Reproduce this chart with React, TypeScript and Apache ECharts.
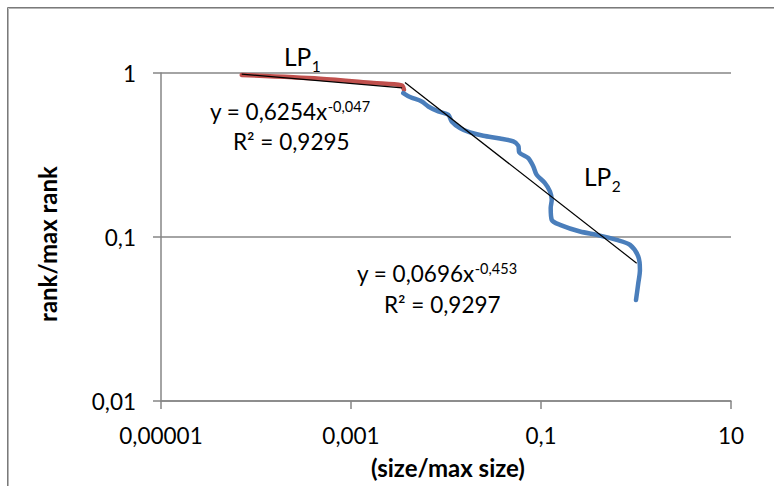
import React, { useEffect, useRef } from "react";
import * as echarts from "echarts";

// ---- data ----
const xTickValues = [0.00001, 0.001, 0.1, 10];
const xTickLabels = ["0,00001", "0,001", "0,1", "10"];
const yTickValues = [0.01, 0.1, 1];
const yTickLabels = ["0,01", "0,1", "1"];

// LP1 segment (red)
const redX = [7.07e-5, 4.72e-4, 1.717e-3, 3.42e-3, 3.61e-3];
const redY = [0.972, 0.923, 0.869, 0.84, 0.791];

// LP2 segment (blue)
const blueX = [
  3.55e-3, 4.18e-3, 5.55e-3, 6.51e-3, 8.3e-3, 0.01057, 0.01148, 0.01403, 0.0179,
  0.0247, 0.037, 0.0511, 0.0577, 0.0591, 0.0735, 0.083, 0.09, 0.11, 0.1244,
  0.1297, 0.1265, 0.1297, 0.1585, 0.2574, 0.386, 0.626, 0.865, 1.057, 1.1,
  1.057, 1.0,
];
const blueY = [
  0.755, 0.714, 0.671, 0.625, 0.583, 0.557, 0.5066, 0.4616, 0.434, 0.4143,
  0.399, 0.3825, 0.36, 0.3276, 0.3029, 0.269, 0.2394, 0.2132, 0.1894, 0.1685,
  0.15, 0.1272, 0.1186, 0.108, 0.1031, 0.0961, 0.0895, 0.076, 0.063, 0.0523,
  0.0413,
];

// power-law trend lines (endpoints)
const trend1X = [7.07e-5, 3.45e-3];
const trend1Y = [0.985, 0.812];
const trend2X = [3.7e-3, 1.017];
const trend2Y = [0.876, 0.0692];

const eq1 = { main: "y = 0,6254x", sup: "-0,047", r2: "R² = 0,9295" };
const eq2 = { main: "y = 0,0696x", sup: "-0,453", r2: "R² = 0,9297" };
const lp1 = { main: "LP", sub: "1" };
const lp2 = { main: "LP", sub: "2" };
const xName = "(size/max size)";
const yName = "rank/max rank";

const FONT = 'Lato, "Liberation Sans", sans-serif';
const GRAY = "#868686";
const MAIN = 22.5;
const SMALL = 14.5;
const LPSIZE = 24.5;
const LPSUB = 15.5;

function zip(xs: number[], ys: number[]) {
  return xs.map((x, i) => [x, ys[i]]);
}

function labelFor(values: number[], labels: string[]) {
  return (v: number) => {
    const lv = Math.log10(v);
    let best = 0;
    let bd = Infinity;
    values.forEach((t, i) => {
      const d = Math.abs(Math.log10(t) - lv);
      if (d < bd) {
        bd = d;
        best = i;
      }
    });
    return bd < 0.01 ? labels[best] : "";
  };
}

function measure(text: string, size: number) {
  const c = document.createElement("canvas");
  const ctx = c.getContext("2d");
  if (!ctx) return text.length * size * 0.55;
  ctx.font = `${size}px ${FONT}`;
  return ctx.measureText(text).width;
}

function txt(text: string, x: number, y: number, size: number, extra: any = {}) {
  return {
    type: "text",
    x,
    y,
    silent: true,
    rotation: extra.rotation || 0,
    style: {
      text,
      fill: "#000",
      fontFamily: FONT,
      fontSize: size,
      fontWeight: extra.bold ? "bold" : "normal",
      align: extra.align || "left",
      verticalAlign: "middle",
    },
  };
}

// main text followed by a superscript
function supTxt(main: string, small: string, x: number, y: number) {
  return {
    type: "text",
    x,
    y,
    silent: true,
    style: {
      text: `{m|${main}}{s|${small}}`,
      fill: "#000",
      fontFamily: FONT,
      fontSize: MAIN,
      align: "left",
      verticalAlign: "middle",
      rich: {
        m: { fontFamily: FONT, fontSize: MAIN, lineHeight: 24, fill: "#000" },
        s: {
          fontFamily: FONT,
          fontSize: SMALL,
          lineHeight: 14,
          verticalAlign: "top",
          fill: "#000",
        },
      },
    },
  };
}

// main text followed by a subscript (two text elements)
function subTxt(main: string, small: string, x: number, y: number) {
  const w = measure(main, LPSIZE);
  return [txt(main, x, y, LPSIZE), txt(small, x + w + 0.5, y + 10, LPSUB)];
}

export default function App() {
  const ref = useRef<HTMLDivElement>(null);

  useEffect(() => {
    if (!ref.current) return;
    const chart = echarts.init(ref.current, undefined, { renderer: "svg" });
    const option: any = {
      animation: false,
      backgroundColor: "#fff",
      grid: { left: 161, top: 73, right: 43, bottom: 85 },
      xAxis: {
        type: "log",
        logBase: 10,
        min: 0.00001,
        max: 10,
        axisLine: { show: true, lineStyle: { color: GRAY, width: 1.5 } },
        axisTick: {
          show: true,
          length: 8,
          customValues: xTickValues,
          lineStyle: { color: GRAY, width: 1.5 },
        },
        axisLabel: {
          customValues: xTickValues,
          formatter: labelFor(xTickValues, xTickLabels),
          color: "#000",
          fontFamily: FONT,
          fontSize: MAIN,
          margin: 23,
        },
        splitLine: { show: false },
        minorTick: { show: false },
      },
      yAxis: {
        type: "log",
        logBase: 10,
        min: 0.01,
        max: 1,
        axisLine: { show: true, lineStyle: { color: GRAY, width: 1.5 } },
        axisTick: {
          show: true,
          length: 8,
          customValues: yTickValues,
          lineStyle: { color: GRAY, width: 1.5 },
        },
        axisLabel: {
          customValues: yTickValues,
          formatter: labelFor(yTickValues, yTickLabels),
          color: "#000",
          fontFamily: FONT,
          fontSize: MAIN,
          margin: 25,
        },
        splitLine: { show: true, lineStyle: { color: GRAY, width: 1.5 } },
      },
      series: [
        {
          type: "line",
          data: zip(redX, redY),
          showSymbol: false,
          smooth: 0.3,
          lineStyle: { color: "#C0504D", width: 4.5, cap: "round", join: "round" },
          z: 2,
        },
        {
          type: "line",
          data: zip(blueX, blueY),
          showSymbol: false,
          smooth: 0.3,
          lineStyle: { color: "#4A7EBB", width: 4.5, cap: "round", join: "round" },
          z: 2,
        },
        {
          type: "line",
          data: zip(trend1X, trend1Y),
          showSymbol: false,
          lineStyle: { color: "#000", width: 1.2 },
          z: 3,
        },
        {
          type: "line",
          data: zip(trend2X, trend2Y),
          showSymbol: false,
          lineStyle: { color: "#000", width: 1.2 },
          z: 3,
        },
      ],
      graphic: [
        {
          type: "rect",
          shape: { x: 7.5, y: 7.5, width: 820, height: 520 },
          style: { fill: "none", stroke: "#7a7a7a", lineWidth: 1 },
          silent: true,
        },
        {
          type: "rect",
          shape: { x: 8.5, y: 8.5, width: 820, height: 520 },
          style: { fill: "none", stroke: "#b5b5b5", lineWidth: 1 },
          silent: true,
        },
        ...subTxt(lp1.main, lp1.sub, 284, 56),
        ...subTxt(lp2.main, lp2.sub, 584, 176),
        supTxt(eq1.main, eq1.sup, 210, 111),
        txt(eq1.r2, 233, 141, MAIN),
        supTxt(eq2.main, eq2.sup, 357, 273),
        txt(eq2.r2, 384, 304, MAIN),
        txt(xName, 448, 467, 24, { bold: true, align: "center" }),
        txt(yName, 47, 244, 24, { bold: true, align: "center", rotation: Math.PI / 2 }),
      ],
    };
    chart.setOption(option);
    return () => chart.dispose();
  }, []);

  return (
    <div
      ref={ref}
      style={{ position: "absolute", left: 0, top: 0, width: 774, height: 486 }}
    />
  );
}
